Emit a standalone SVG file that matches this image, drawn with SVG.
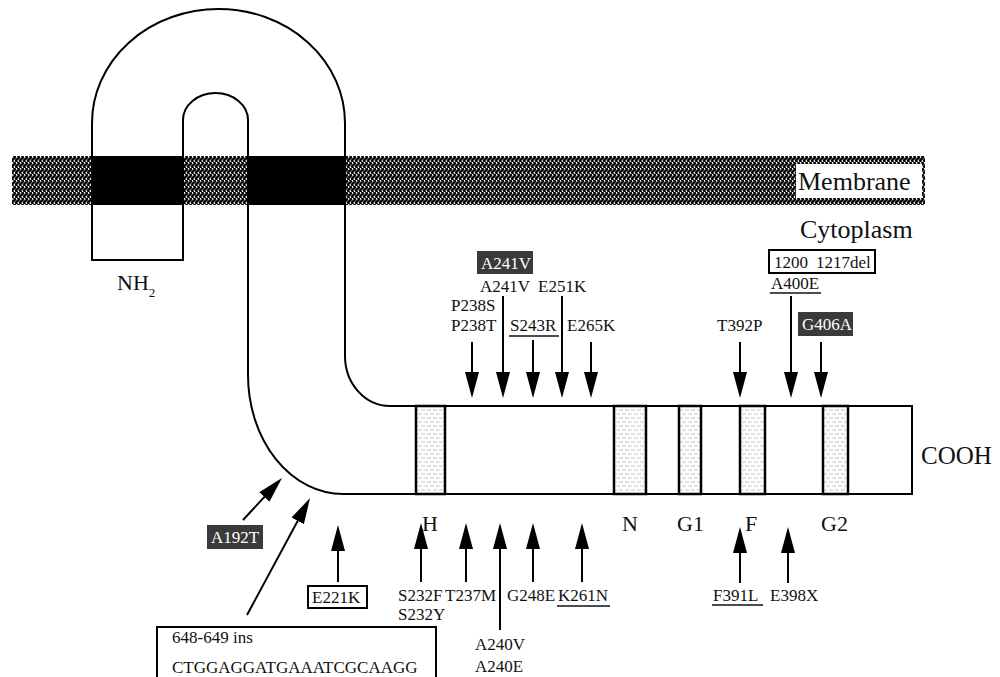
<svg xmlns="http://www.w3.org/2000/svg" width="1000" height="677" viewBox="0 0 1000 677" font-family="'Liberation Serif', 'DejaVu Serif', serif">
<style>
text{font-family:'Liberation Serif','DejaVu Serif',serif;fill:#111}
.s{font-size:17px}
.b{font-size:26px}
.m{font-size:22px}
.w{fill:#fff}
.ln{stroke:#000;stroke-width:2;fill:none}
.ar{stroke:#000;stroke-width:2;fill:none;marker-end:url(#ah)}
.dk{fill:#3a3a3a}
.bx{fill:#fff;stroke:#000;stroke-width:2}
.dom{fill:url(#dash);stroke:#000;stroke-width:2.5}
.ul{stroke:#111;stroke-width:1.5}
</style>
<defs>
<pattern id="wave" width="4" height="6" patternUnits="userSpaceOnUse">
<rect width="4" height="6" fill="#fff"/>
<path d="M1.5,0 C3.8,1.5 3.8,1.5 1.5,3 C-0.8,4.5 -0.8,4.5 1.5,6" stroke="#000" stroke-width="2.2" fill="none"/>
<path d="M5.5,0 C7.8,1.5 7.8,1.5 5.5,3 C3.2,4.5 3.2,4.5 5.5,6" stroke="#000" stroke-width="2.2" fill="none"/>
<path d="M-2.5,0 C-0.2,1.5 -0.2,1.5 -2.5,3 C-4.8,4.5 -4.8,4.5 -2.5,6" stroke="#000" stroke-width="2.2" fill="none"/>
</pattern>
<pattern id="dash" width="12" height="8" patternUnits="userSpaceOnUse">
<rect width="12" height="8" fill="#fff"/>
<path d="M1,2 h4 M7,2 h4 M-2,6 h4 M4,6 h4 M10,6 h4" stroke="#c4c4c4" stroke-width="1"/>
</pattern>
<marker id="ah" markerUnits="userSpaceOnUse" markerWidth="26" markerHeight="14" viewBox="0 0 26 14" refX="16" refY="7" orient="auto">
<path d="M0,0 L26,7 L0,14 Z" fill="#000"/>
</marker>
</defs>
<rect width="1000" height="677" fill="#fff"/>

<g id="membrane">
<rect x="12" y="156" width="913" height="49" fill="url(#wave)"/>
<rect x="796" y="164" width="126" height="34" fill="#fff"/>
<text class="b" x="798" y="190">Membrane</text>
</g>

<g id="protein">
<path class="ln" d="M92,260 L92,123 A126.5,114 0 0 1 345,123 L345,356 A45,50 0 0 0 390,406 L912,406 L912,494 L343,494 A95,119 0 0 1 248,375 L248,120 A32.5,27 0 0 0 183,120 L183,260 Z"/>
<rect x="92" y="156" width="92" height="49" fill="#000"/>
<rect x="248" y="156" width="97" height="49" fill="#000"/>
</g>

<g id="cytoplasm"><text class="b" x="800" y="238">Cytoplasm</text></g>
<g id="nh2"><text class="m" x="117" y="290">NH<tspan font-size="13" dy="7">2</tspan></text></g>
<g id="cooh"><text class="b" x="921" y="464" style="font-size:25px">COOH</text></g>

<g id="dom-H"><rect class="dom" x="416" y="406" width="29" height="88"/><text class="m" x="422" y="531">H</text></g>
<g id="dom-N"><rect class="dom" x="614" y="406" width="32" height="88"/><text class="m" x="622" y="531">N</text></g>
<g id="dom-G1"><rect class="dom" x="679" y="406" width="22" height="88"/><text class="m" x="677" y="531">G1</text></g>
<g id="dom-F"><rect class="dom" x="740" y="406" width="25" height="88"/><text class="m" x="745" y="531">F</text></g>
<g id="dom-G2"><rect class="dom" x="823" y="406" width="25" height="88"/><text class="m" x="821" y="531">G2</text></g>

<g id="connectors">
<line class="ar" x1="472" y1="342" x2="472" y2="388"/>
<line class="ar" x1="503" y1="296" x2="503" y2="388"/>
<line class="ar" x1="533" y1="340" x2="533" y2="388"/>
<line class="ar" x1="562" y1="296" x2="562" y2="388"/>
<line class="ar" x1="591" y1="342" x2="591" y2="388"/>
<line class="ar" x1="740" y1="342" x2="740" y2="388"/>
<line class="ar" x1="791" y1="296" x2="791" y2="388"/>
<line class="ar" x1="821" y1="342" x2="821" y2="388"/>
<line class="ar" x1="421" y1="582" x2="421" y2="533"/>
<line class="ar" x1="466" y1="582" x2="466" y2="533"/>
<line class="ar" x1="500" y1="630" x2="500" y2="533"/>
<line class="ar" x1="533" y1="582" x2="533" y2="533"/>
<line class="ar" x1="582" y1="582" x2="582" y2="533"/>
<line class="ar" x1="338" y1="582" x2="338" y2="535"/>
<line class="ar" x1="740" y1="583" x2="740" y2="537"/>
<line class="ar" x1="788" y1="583" x2="788" y2="537"/>
<line class="ar" x1="243" y1="520" x2="275.2" y2="485.3"/>
<line class="ar" x1="247" y1="615" x2="305.3" y2="506.8"/>
</g>

<g id="lbl-A241V-box"><rect class="dk" x="477" y="251" width="56" height="23"/><text class="s w" x="481" y="269">A241V</text></g>
<g id="lbl-A241V"><text class="s" x="480" y="292">A241V</text></g>
<g id="lbl-E251K"><text class="s" x="538" y="292">E251K</text></g>
<g id="lbl-P238"><text class="s" x="451" y="311">P238S</text><text class="s" x="451" y="331">P238T</text></g>
<g id="lbl-S243R"><text class="s" x="510" y="331">S243R</text><line class="ul" x1="509" y1="336" x2="559" y2="336"/></g>
<g id="lbl-E265K"><text class="s" x="567" y="331">E265K</text></g>
<g id="lbl-del"><rect class="bx" x="769" y="250" width="106" height="23"/><text class="s" x="774" y="268">1200</text><text class="s" x="816" y="268">1217del</text></g>
<g id="lbl-A400E"><text class="s" x="771" y="289">A400E</text><line class="ul" x1="770" y1="293" x2="821" y2="293"/></g>
<g id="lbl-T392P"><text class="s" x="717" y="331">T392P</text></g>
<g id="lbl-G406A"><rect class="dk" x="798" y="312" width="55" height="24"/><text class="s w" x="802" y="330">G406A</text></g>

<g id="lbl-S232"><text class="s" x="398" y="601">S232F</text><text class="s" x="398" y="620">S232Y</text></g>
<g id="lbl-T237M"><text class="s" x="445" y="601">T237M</text></g>
<g id="lbl-G248E"><text class="s" x="507" y="601">G248E</text></g>
<g id="lbl-K261N"><text class="s" x="558" y="601">K261N</text><line class="ul" x1="557" y1="606" x2="610" y2="606"/></g>
<g id="lbl-A240"><text class="s" x="475" y="650">A240V</text><text class="s" x="475" y="672">A240E</text></g>
<g id="lbl-E221K"><rect class="bx" x="308" y="586" width="59" height="22"/><text class="s" x="312" y="603">E221K</text></g>
<g id="lbl-F391L"><text class="s" x="713" y="601">F391L</text><line class="ul" x1="712" y1="605" x2="763" y2="605"/></g>
<g id="lbl-E398X"><text class="s" x="770" y="601">E398X</text></g>
<g id="lbl-A192T"><rect class="dk" x="207" y="525" width="56" height="24"/><text class="s w" x="211" y="543">A192T</text></g>
<g id="lbl-ins"><rect class="bx" x="157" y="627" width="279" height="70"/><text class="s" x="172" y="643">648-649 ins</text><text class="s" x="172" y="673">CTGGAGGATGAAATCGCAAGG</text></g>
</svg>
